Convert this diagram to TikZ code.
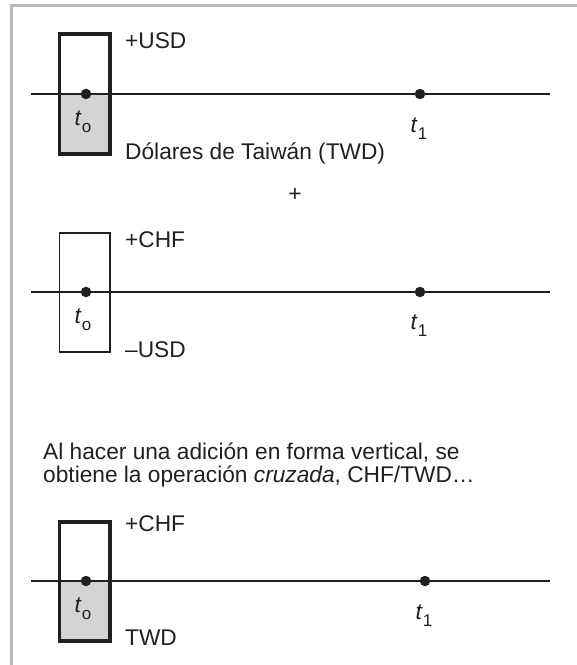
\documentclass[tikz,border=0pt]{standalone}
\usepackage{fontspec}
\setmainfont{Liberation Sans}
\definecolor{ink}{RGB}{35,31,32}
\definecolor{framegray}{RGB}{185,185,187}
\definecolor{boxfill}{RGB}{212,212,213}
\newcommand{\tsub}[2]{\textit{#1}\raisebox{-0.32em}{\fontsize{17}{17}\selectfont #2}}
\begin{document}
\begin{tikzpicture}[x=1pt,y=-1pt,
  lbl/.style={font=\fontsize{22.7}{26}\selectfont, text=ink, inner sep=0pt, anchor=base west},
  tlbl/.style={font=\fontsize{22.7}{26}\selectfont, text=ink, inner sep=0pt, anchor=center},
  axis/.style={draw=ink, line width=1.5pt},
  thickbox/.style={draw=ink, line width=3.2pt},
  thinbox/.style={draw=ink, line width=1.8pt},
  dot/.style={circle, fill=ink, inner sep=0pt, minimum size=10.5pt}]
\useasboundingbox (0,0) rectangle (577,665);
% frame (top and left)
\draw[framegray, line width=2.6pt] (11.5,665) -- (11.5,5.5) -- (577,5.5);

% ---------- panel 1 ----------
\fill[boxfill] (59.5,94) rectangle (110,154);
\coordinate (a1) at (31,94);
\coordinate (b1) at (550,94);
\draw[axis] (a1) -- (b1);
\draw[thickbox] (59.5,34) rectangle (110,154);
\node[dot] (p1o) at (86,94) {};
\node[dot] (p1e) at (420,94) {};
\node[tlbl] (t1o) at (83,122) {\tsub{t}{o}};
\node[tlbl] (t1e) at (419,129) {\tsub{t}{1}};
\node[lbl] (usd1) at (125,48) {+USD};
\node[lbl] (twd1) at (125,159) {Dólares de Taiwán (TWD)};

\node[tlbl] (plus) at (295,195) {+};

% ---------- panel 2 ----------
\coordinate (a2) at (31,292);
\coordinate (b2) at (550,292);
\draw[axis] (a2) -- (b2);
\draw[thinbox] (59.5,233) rectangle (110,352);
\node[dot] (p2o) at (86,292) {};
\node[dot] (p2e) at (420,292) {};
\node[tlbl] (t2o) at (83,320) {\tsub{t}{o}};
\node[tlbl] (t2e) at (419,326) {\tsub{t}{1}};
\node[lbl] (chf2) at (125,247) {+CHF};
\node[lbl] (usd2) at (125,357) {–USD};

% ---------- text ----------
\node[lbl] (txt1) at (43,459) {Al hacer una adición en forma vertical, se};
\node[lbl] (txt2) at (43,482) {obtiene la operación \textit{cruzada}, CHF/TWD…};

% ---------- panel 3 ----------
\fill[boxfill] (59.5,581) rectangle (110,641);
\coordinate (a3) at (31,581);
\coordinate (b3) at (550,581);
\draw[axis] (a3) -- (b3);
\draw[thickbox] (59.5,522) rectangle (110,641);
\node[dot] (p3o) at (86,581) {};
\node[dot] (p3e) at (425,581) {};
\node[tlbl] (t3o) at (83,609) {\tsub{t}{o}};
\node[tlbl] (t3e) at (424,616) {\tsub{t}{1}};
\node[lbl] (chf3) at (125,531) {+CHF};
\node[lbl] (twd3) at (125,645) {TWD};
\end{tikzpicture}
\end{document}
